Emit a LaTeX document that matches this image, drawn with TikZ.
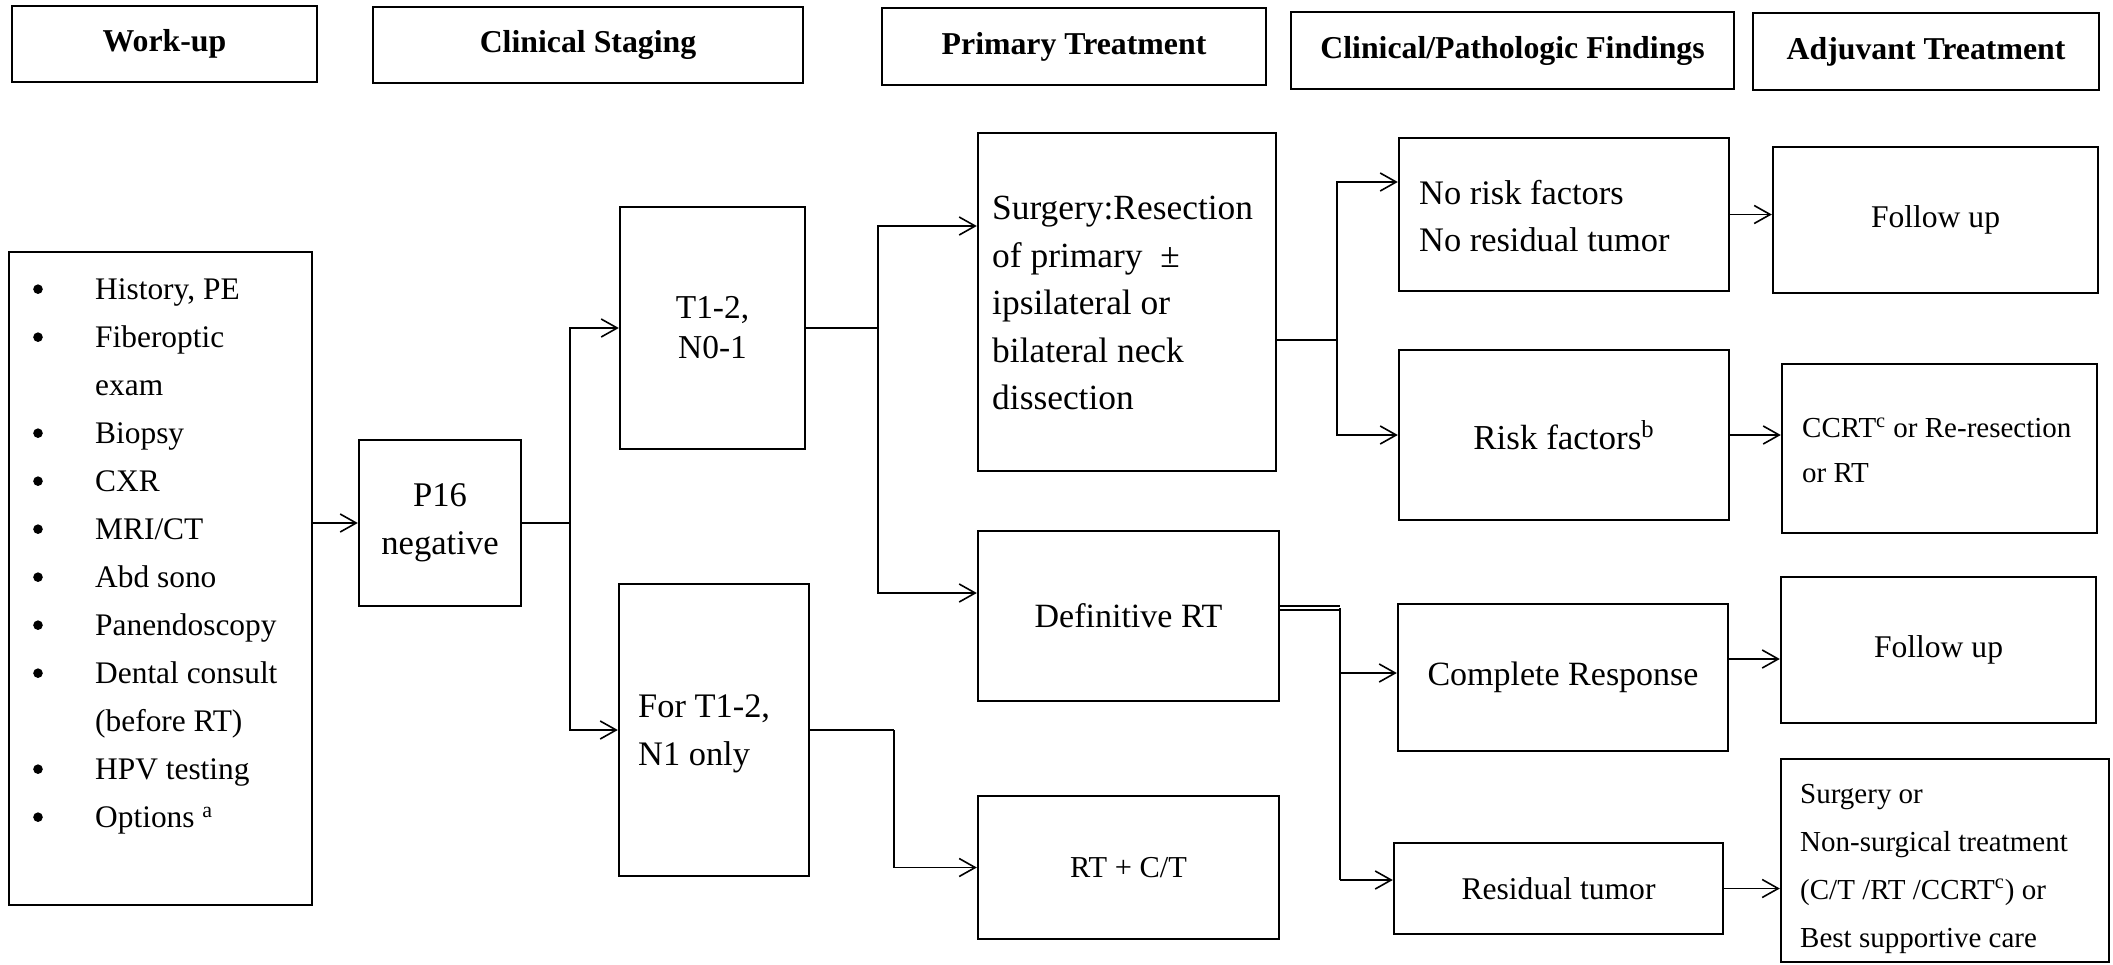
\documentclass[tikz,border=0pt]{standalone}
\usepackage{fontspec}
\setmainfont{Liberation Serif}
\usetikzlibrary{arrows.meta,calc}
\newcommand{\myfs}[2]{\fontsize{#1}{#2}\selectfont}
\newcommand{\bul}{\makebox[31pt][l]{\tikz[baseline]\fill (2.4pt,5.2pt) circle (2.4pt);}}
\newcommand{\nob}{\hspace*{31pt}}
\begin{document}
\begin{tikzpicture}[x=0.5pt,y=-0.5pt,
 box/.style={draw, line width=1.2pt, inner sep=0pt},
 sz/.style 2 args={minimum width=#1, minimum height=#2},
 hdr/.style={box, font=\bfseries\myfs{15.9}{19}},
 txt/.style={inner sep=0pt, align=left, anchor=west},
 conn/.style={line width=0.8pt},
 arr/.style={conn, -{Straight Barb[length=8pt,width=9pt,line width=0.8pt]}}]
\useasboundingbox[fill=white] (0,0) rectangle (2113,964);

% headers
\node[hdr, sz={152.5pt}{38pt}] (h1) at (164.5,44) {Work-up};
\node[hdr, sz={215pt}{38pt}] (h2) at (588,45) {Clinical Staging};
\node[hdr, sz={192pt}{38.5pt}] (h3) at (1074,46.5) {Primary Treatment};
\node[hdr, sz={221.5pt}{38.5pt}] (h4) at (1512.5,50.5) {Clinical/Pathologic Findings};
\node[hdr, sz={173pt}{38.5pt}] (h5) at (1926,51.5) {Adjuvant Treatment};

% boxes
\node[box, sz={151.5pt}{326.5pt}] (wl) at (160.5,578.5) {};
\node[box, sz={81pt}{83pt}, align=center, font=\myfs{17.3}{24}] (p16) at (440,523) {P16\\negative};
\node[box, sz={92.5pt}{121pt}, align=center, font=\myfs{16.7}{20}] (t12) at (712.5,328) {T1-2,\\N0-1};
\node[box, sz={95pt}{146pt}] (fort) at (714,730) {};
\node[box, sz={149pt}{169pt}] (surg) at (1127,302) {};
\node[box, sz={150.5pt}{85pt}, font=\myfs{17}{20}] (defrt) at (1128.5,616) {Definitive RT};
\node[box, sz={150.5pt}{71.5pt}, font=\myfs{15.2}{20}] (rtct) at (1128.5,867.5) {RT + C/T};
\node[box, sz={165pt}{76.5pt}] (norisk) at (1564,214.5) {};
\node[box, sz={165pt}{85pt}, font=\myfs{17.5}{20}] (risk) at (1564,435) {Risk factors\textsuperscript{b}};
\node[box, sz={165pt}{73.5pt}, font=\myfs{17}{20}] (cr) at (1563,677.5) {Complete Response};
\node[box, sz={164.5pt}{45.5pt}, font=\myfs{15.8}{20}] (resid) at (1558.5,888.5) {Residual tumor};
\node[box, sz={162.5pt}{73pt}, font=\myfs{15.8}{20}] (fu1) at (1935.5,220) {Follow up};
\node[box, sz={157.5pt}{84.5pt}] (ccrt) at (1939.5,448.5) {};
\node[box, sz={157.5pt}{73pt}, font=\myfs{15.8}{20}] (fu2) at (1938.5,650) {Follow up};
\node[box, sz={164pt}{101.5pt}] (fin) at (1945,860.5) {};

% left-aligned texts
\node[txt, font=\myfs{15.7}{24}] (wlt) at ($(wl.west)+(25,-22)$) {\bul History, PE\\\bul Fiberoptic\\\nob exam\\\bul Biopsy\\\bul CXR\\\bul MRI/CT\\\bul Abd sono\\\bul Panendoscopy\\\bul Dental consult\\\nob (before RT)\\\bul HPV testing\\\bul Options \textsuperscript{a}};
\node[txt, font=\myfs{17.7}{23.75}] (surgt) at ($(surg.west)+(15,1)$) {Surgery:Resection\\of primary\ \ ±\\ipsilateral or\\bilateral neck\\dissection};
\node[txt, font=\myfs{17.2}{24}] (fortt) at ($(fort.west)+(20,4)$) {For T1-2,\\N1 only};
\node[txt, font=\myfs{17.2}{23.5}] (noriskt) at ($(norisk.west)+(21,2)$) {No risk factors\\No residual tumor};
\node[txt, font=\myfs{14.5}{22.5}] (ccrtt) at ($(ccrt.west)+(21,2)$) {CCRT\textsuperscript{c} or Re-resection\\or RT};
\node[txt, font=\myfs{14.5}{24}] (fint) at ($(fin.west)+(20,8)$) {Surgery or\\Non-surgical treatment\\(C/T /RT /CCRT\textsuperscript{c}) or\\Best supportive care};

% junction coordinates
\coordinate (j1) at (570,523);
\coordinate (j2) at (878,328);
\coordinate (j2t) at (878,226);
\coordinate (j2b) at (878,593);
\coordinate (j3) at (1337,340);
\coordinate (j3t) at (1337,182);
\coordinate (j4) at (1340,608);
\coordinate (j4a) at (1340,673);
\coordinate (j4b) at (1340,880);
\coordinate (j5) at (894,730);
\coordinate (k1) at (0,659);

% connectors
\draw[arr] (wl.east |- p16.west) -- (p16.west);
\draw[conn] (p16.east) -- (j1);
\draw[arr] (j1) |- (t12.west);
\draw[arr] (j1) |- (fort.west);

\draw[conn] (t12.east) -- (j2);
\draw[arr] (j2) |- (surg.west |- j2t);
\draw[arr] (j2) |- (defrt.west |- j2b);

\draw[conn] (fort.east) -- (j5);
\draw[arr] (j5) |- (rtct.west);

\draw[conn] (surg.east |- j3) -- (j3);
\draw[arr] (j3) |- (norisk.west |- j3t);
\draw[arr] (j3) |- (risk.west);

\draw[conn, double, double distance=1.2pt] (defrt.east |- j4) -- (j4);
\draw[conn] (j4) -- (j4b);
\draw[arr] (j4a) -- (cr.west |- j4a);
\draw[arr] (j4b) -- (resid.west |- j4b);

\draw[arr] (norisk.east) -- (norisk.east -| fu1.west);
\draw[arr] (risk.east) -- (risk.east -| ccrt.west);
\draw[arr] (cr.east |- k1) -- (fu2.west |- k1);
\draw[arr] (resid.east) -- (resid.east -| fin.west);
\end{tikzpicture}
\end{document}
